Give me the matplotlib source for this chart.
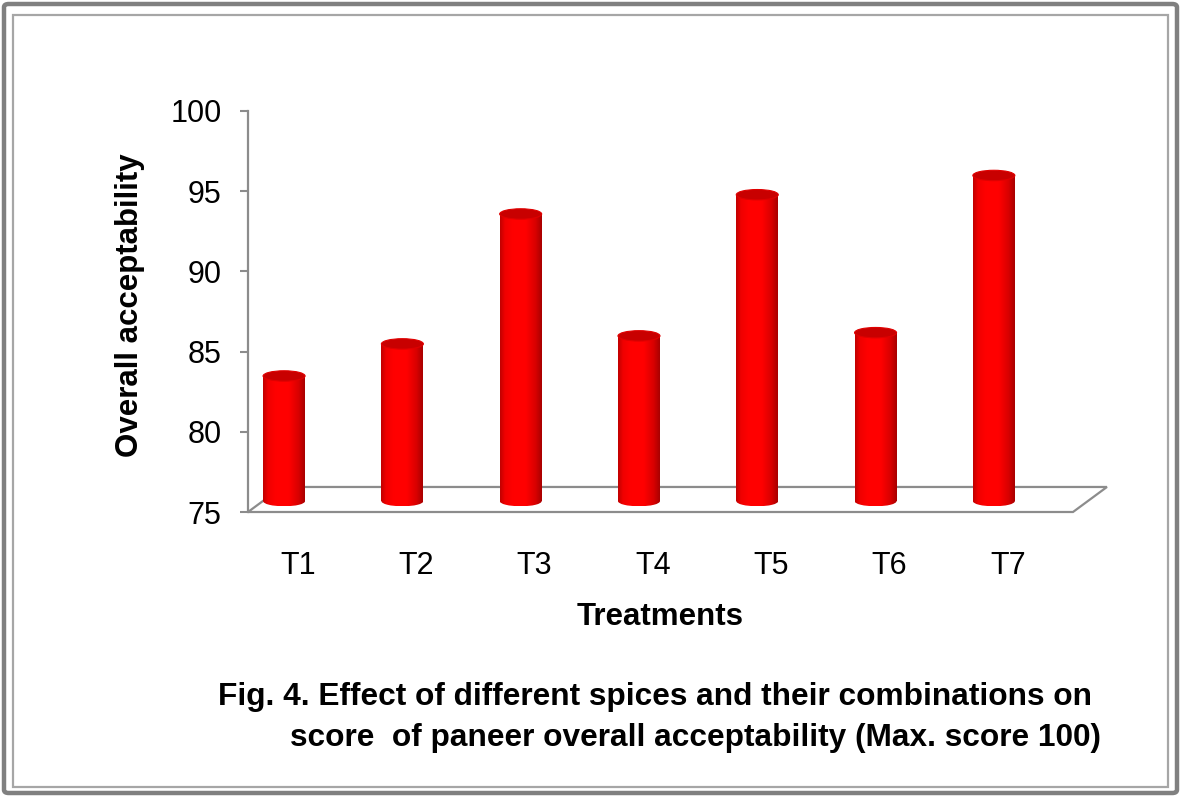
import numpy as np
import matplotlib
matplotlib.use("Agg")
import matplotlib.pyplot as plt
from matplotlib.patches import Rectangle, Ellipse, Polygon, FancyBboxPatch
from matplotlib.colors import LinearSegmentedColormap

# ---------------- data ----------------
categories = ["T1", "T2", "T3", "T4", "T5", "T6", "T7"]
values = [82.7, 84.7, 92.8, 85.2, 94.0, 85.4, 95.2]
y_ticks = [75, 80, 85, 90, 95, 100]
y_label = "Overall acceptability"
x_label = "Treatments"
caption1 = "Fig. 4. Effect of different spices and their combinations on"
caption2 = "score  of paneer overall acceptability (Max. score 100)"

# ---------------- style / projection ----------------
W, H, DPI = 1181, 796, 100
FONT = "Liberation Sans"
GRAY = "#8c8c8c"
BAR_SHIFT = -0.118      # bars sit slightly left of label positions
BAR_W = 0.355
DEPTH_X = 0.287         # floor depth offset (x, data units)
DEPTH_Y = 1.56          # floor depth offset (y, data units)
ELL_H = 0.65            # ellipse height (y data units)
YMIN, YMAX = 75, 100

fig = plt.figure(figsize=(W / DPI, H / DPI), dpi=DPI)
fig.patch.set_facecolor("white")

# double border
fig.patches.append(FancyBboxPatch((4 / W, 3 / H), (W - 8) / W, (H - 7) / H,
                                  boxstyle="round,pad=0,rounding_size=0.004",
                                  transform=fig.transFigure, fill=False,
                                  edgecolor="#808080", linewidth=3.2))
fig.patches.append(Rectangle((12.5 / W, 9.5 / H), (W - 26) / W, (H - 24) / H,
                             transform=fig.transFigure, fill=False,
                             edgecolor="#a6a6a6", linewidth=1.6))

ax = fig.add_axes([248 / W, 1 - 512 / H, 825 / W, 401 / H])
xl, xr = -0.423, 6.551
ax.set_xlim(xl, xr)
ax.set_ylim(YMIN, YMAX)

for s in ["top", "right", "bottom"]:
    ax.spines[s].set_visible(False)
ax.spines["left"].set_color(GRAY)
ax.spines["left"].set_linewidth(1.6)

ax.set_yticks(y_ticks)
ax.set_yticklabels([str(t) for t in y_ticks], fontsize=22, family=FONT)
ax.tick_params(axis="y", direction="out", length=6, width=1.5, color=GRAY, pad=13)
xs = np.arange(len(categories))
ax.set_xticks(xs)
ax.set_xticklabels(categories, fontsize=22, family=FONT)
ax.tick_params(axis="x", length=0, pad=28)

# floor parallelogram
floor = [(xl, YMIN), (xr, YMIN), (xr + DEPTH_X, YMIN + DEPTH_Y), (xl + DEPTH_X, YMIN + DEPTH_Y)]
ax.add_patch(Polygon(floor, closed=True, fill=False, edgecolor=GRAY,
                     linewidth=1.6, clip_on=False, zorder=1))

# cylinder gradient
prof = [(0.0, "#c00000"), (0.12, "#f00000"), (0.3, "#ff0000"), (0.62, "#ff0000"),
        (0.85, "#d80000"), (1.0, "#a80000")]
cmap = LinearSegmentedColormap.from_list("cyl", prof)
grad = np.linspace(0, 1, 256).reshape(1, -1)

lift = DEPTH_Y / 2
for i, v in enumerate(values):
    xc = xs[i] + BAR_SHIFT
    x0, x1 = xc - BAR_W / 2, xc + BAR_W / 2
    base = YMIN + lift - 0.1
    top = v + lift
    ext = (x0, x1, base - ELL_H / 2, top)
    body = Rectangle((x0, base), BAR_W, top - base, transform=ax.transData)
    bot = Ellipse((xc, base), BAR_W, ELL_H, transform=ax.transData)
    for clip in (body, bot):
        im = ax.imshow(grad, cmap=cmap, extent=ext, aspect="auto",
                       interpolation="bilinear", zorder=2, clip_on=True)
        im.set_clip_path(clip)
    ax.add_patch(Ellipse((xc, top), BAR_W, ELL_H, facecolor="#c80000",
                         edgecolor="#e00000", linewidth=0.8, zorder=3))

ax.set_xlim(xl, xr)
ax.set_ylim(YMIN, YMAX)

# labels
fig.text(130 / W, 1 - 305 / H, y_label, rotation=90, ha="center", va="center",
         fontsize=22.5, fontweight="bold", family=FONT)
fig.text(660 / W, 1 - 617 / H, x_label, ha="center", va="center",
         fontsize=22.5, fontweight="bold", family=FONT)
fig.text(218 / W, 1 - 697 / H, caption1, ha="left", va="center",
         fontsize=22.8, fontweight="bold", family=FONT)
fig.text(290 / W, 1 - 738 / H, caption2, ha="left", va="center",
         fontsize=22.8, fontweight="bold", family=FONT)

fig.savefig("out.png", dpi=DPI)
